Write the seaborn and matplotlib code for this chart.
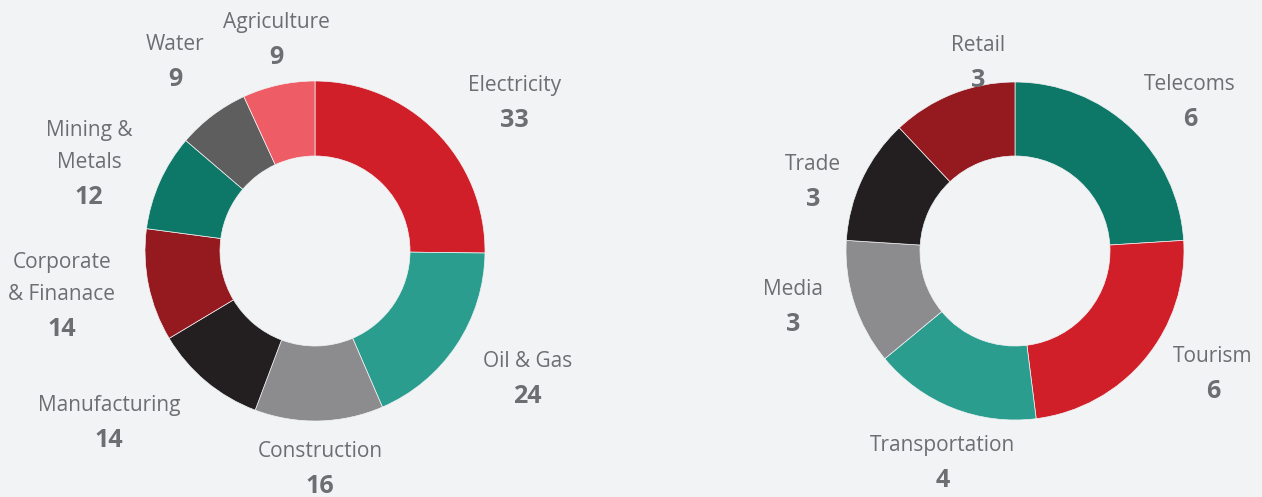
"""Two donut charts: project counts by sector."""
import matplotlib

matplotlib.use("Agg")
import matplotlib.pyplot as plt
import numpy as np
import seaborn as sns

sns.set_theme(style="white")
plt.rcParams["font.family"] = ["Open Sans", "DejaVu Sans"]

BG = "#f2f3f5"
TEXT = "#6d6e71"

# Left donut
left_labels = ["Electricity", "Oil & Gas", "Construction", "Manufacturing",
               "Corporate\n& Finanace", "Mining &\nMetals", "Water", "Agriculture"]
left_values = [33, 24, 16, 14, 14, 12, 9, 9]
left_colors = ["#d01f29", "#2a9d8f", "#8c8c8e", "#231f20",
               "#951a20", "#0e7868", "#5e5e5e", "#ee5c66"]

# Right donut
right_labels = ["Telecoms", "Tourism", "Transportation", "Media", "Trade", "Retail"]
right_values = [6, 6, 4, 3, 3, 3]
right_colors = ["#0e7868", "#d01f29", "#2a9d8f", "#8c8c8e", "#231f20", "#951a20"]

# label layout: distance from centre (px) and angle nudge from slice middle (deg)
left_label_dist = [250, 247, 216, 267, 257, 243, 237, 217]
left_label_nudge = [-7.7, 3, 0, -10.7, -2, 2.5, -1, -2]
right_label_dist = [231, 232, 222, 228, 214, 194]
right_label_nudge = [-6, 8.2, 2.6, -4.3, 5.8, -10.6]

W, H = 1262, 497


def donut(ax, labels, values, colors, center, radius, hole, dists, nudges):
    ax.pie(values, colors=colors, startangle=90, counterclock=False,
           center=center, radius=radius,
           wedgeprops=dict(width=radius - hole, edgecolor=BG, linewidth=0.5))
    vals = np.asarray(values, dtype=float)
    ends = 90 - 360 * np.cumsum(vals) / vals.sum()
    starts = np.concatenate([[90], ends[:-1]])
    mids = (starts + ends) / 2
    for lab, val, mid, dist, nudge in zip(labels, values, mids, dists, nudges):
        a = np.deg2rad(mid + nudge)
        bx = center[0] + dist * np.cos(a)
        by = center[1] + dist * np.sin(a) - 2
        lines = lab.split("\n")
        span = (len(lines) - 1) * 32 + 35
        first = by + span / 2
        for i, line in enumerate(lines):
            ax.text(bx, first - i * 32, line, ha="center", va="center",
                    fontsize=15, color=TEXT)
        ax.text(bx, first - span, str(val), ha="center", va="center",
                fontsize=18, fontweight="bold", color=TEXT)


fig = plt.figure(figsize=(W / 100, H / 100), dpi=100)
fig.patch.set_facecolor(BG)
ax = fig.add_axes([0, 0, 1, 1])
ax.set_facecolor(BG)

donut(ax, left_labels, left_values, left_colors, (315, H - 251), 170, 95,
      left_label_dist, left_label_nudge)
donut(ax, right_labels, right_values, right_colors, (1015, H - 251), 169, 95,
      right_label_dist, right_label_nudge)

ax.set_xlim(0, W)
ax.set_ylim(0, H)
ax.set_aspect("equal")
ax.axis("off")

fig.savefig("out.png", dpi=100, facecolor=BG)
